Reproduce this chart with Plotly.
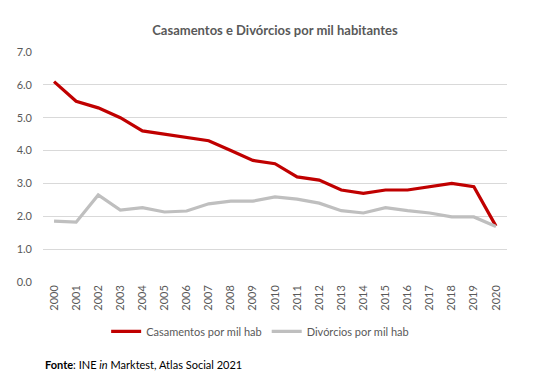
import plotly.graph_objects as go

anos = [str(a) for a in range(2000, 2021)]
casamentos = [6.1, 5.5, 5.3, 5.0, 4.6, 4.5, 4.4, 4.3, 4.0, 3.7, 3.6, 3.2, 3.1, 2.8, 2.7, 2.8, 2.8, 2.9, 3.0, 2.9, 1.7]
divorcios = [1.85, 1.82, 2.65, 2.19, 2.26, 2.13, 2.16, 2.38, 2.46, 2.46, 2.59, 2.52, 2.40, 2.17, 2.10, 2.26, 2.17, 2.10, 1.98, 1.98, 1.69]
y_ticks = [0, 1, 2, 3, 4, 5, 6, 7]

FONT = "Lato, 'Open Sans', sans-serif"
GREY_TXT = "#595959"

fig = go.Figure()
fig.add_trace(go.Scatter(x=anos, y=casamentos, mode="lines", name="Casamentos por mil hab",
                         line=dict(color="#C00000", width=3.2)))
fig.add_trace(go.Scatter(x=anos, y=divorcios, mode="lines", name="Divórcios por mil hab",
                         line=dict(color="#BFBFBF", width=3.2)))

fig.update_layout(
    width=536, height=382,
    margin=dict(l=43, r=29, t=52, b=100),
    paper_bgcolor="white", plot_bgcolor="white",
    font=dict(family=FONT, size=11, color=GREY_TXT),
    title=dict(text="<b>Casamentos e Divórcios por mil habitantes</b>",
               x=0.5, xanchor="center", xref="paper", y=1 - 30 / 382, yanchor="middle",
               font=dict(size=13, color=GREY_TXT, family=FONT)),
    showlegend=True,
    legend=dict(orientation="h", x=0.468, xanchor="center", y=-0.215, yanchor="middle",
                font=dict(size=11, color=GREY_TXT), itemwidth=30, tracegroupgap=0),
    xaxis=dict(type="category", range=[-0.5, 20.5], tickangle=-90, showgrid=False,
               showline=False, ticks="", zeroline=False, tickfont=dict(size=11, color=GREY_TXT)),
    yaxis=dict(range=[0, 7], tickvals=y_ticks, tickformat=".1f", showgrid=True,
               gridcolor="#D9D9D9", gridwidth=1, zeroline=False, showline=False, ticks="",
               ticklabelstandoff=10, tickfont=dict(size=11, color=GREY_TXT)),
    annotations=[dict(text="<b>Fonte</b>: INE <i>in</i> Marktest, Atlas Social 2021",
                      xref="paper", yref="paper", x=0, y=-0.36, xanchor="left", yanchor="middle",
                      showarrow=False, font=dict(size=11, color="black", family=FONT))],
)

fig.write_html("out.html", config={"displayModeBar": False},
               post_script="document.body.style.margin='0';document.body.style.overflow='hidden';")
